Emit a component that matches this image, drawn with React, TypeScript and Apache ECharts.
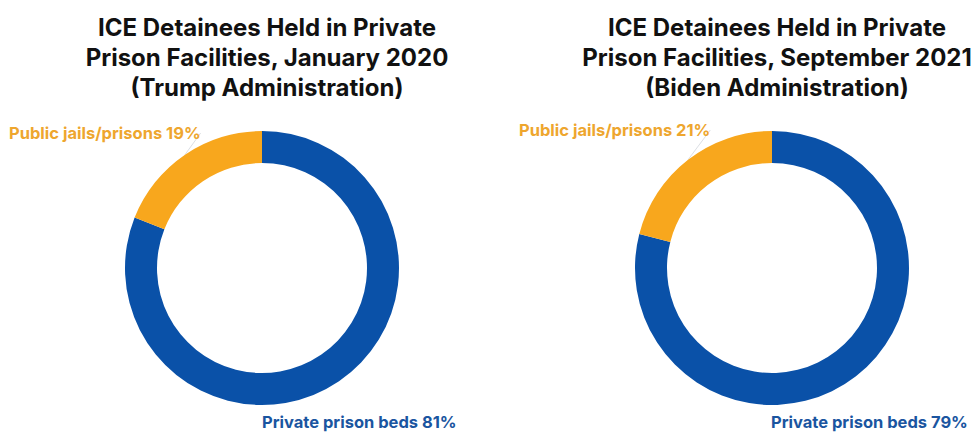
import React, { useEffect, useRef } from "react";
import * as echarts from "echarts";

const categories = ["Private prison beds", "Public jails/prisons"];
const trump2020 = [81, 19];
const biden2021 = [79, 21];
const titles = [
  "ICE Detainees Held in Private\nPrison Facilities, January 2020\n(Trump Administration)",
  "ICE Detainees Held in Private\nPrison Facilities, September 2021\n(Biden Administration)",
];

const BLUE = "#0A51A8";
const ORANGE = "#F8A71D";
const BLUE_TXT = "#1A55A0";
const ORANGE_TXT = "#EEA62E";

export default function App() {
  const ref = useRef<HTMLDivElement>(null);
  useEffect(() => {
    document.body.style.margin = "0";
    const chart = echarts.init(ref.current!, null, { renderer: "svg" });
    const centersX = [262, 772];
    const titleX = [262, 772];
    const labelPos = [
      [
        { x: 262, y: 422 },
        { x: 9, y: 133 },
      ],
      [
        { x: 771, y: 422 },
        { x: 519, y: 130 },
      ],
    ];
    const mkSeries = (vals: number[], idx: number) => ({
      type: "pie",
      center: [centersX[idx], 268],
      radius: [105, 137],
      startAngle: 90,
      clockwise: true,
      silent: true,
      avoidLabelOverlap: false,
      data: categories.map((c, i) => ({
        name: c,
        value: vals[i],
        itemStyle: { color: i === 0 ? BLUE : ORANGE },
        label: { color: i === 0 ? BLUE_TXT : ORANGE_TXT },
        labelLine: { show: i !== 0 },
      })),
      itemStyle: { borderWidth: 0 },
      label: {
        show: true,
        formatter: "{b} {d}%",
        fontFamily: "Inter",
        fontWeight: "bold",
        fontSize: 16.5,
        overflow: "none",
        width: 300,
      },
      labelLine: {
        show: true,
        length: 6,
        length2: 6,
        lineStyle: { color: "#dcdfe4", width: 1 },
      },
      labelLayout: (p: any) => {
        const pos = labelPos[idx][p.dataIndex];
        return { x: pos.x, y: pos.y, align: "left", verticalAlign: "middle" };
      },
    });
    chart.setOption({
      animation: false,
      backgroundColor: "#ffffff",
      title: titles.map((t, i) => ({
        text: t,
        left: titleX[i],
        top: 7,
        textAlign: "center",
        textStyle: {
          fontFamily: "Inter",
          fontWeight: "bold",
          fontSize: 24,
          lineHeight: 30,
          color: "#111111",
        },
      })),
      series: [mkSeries(trump2020, 0), mkSeries(biden2021, 1)],
    });
    return () => chart.dispose();
  }, []);
  return <div ref={ref} style={{ width: 979, height: 434 }} />;
}
